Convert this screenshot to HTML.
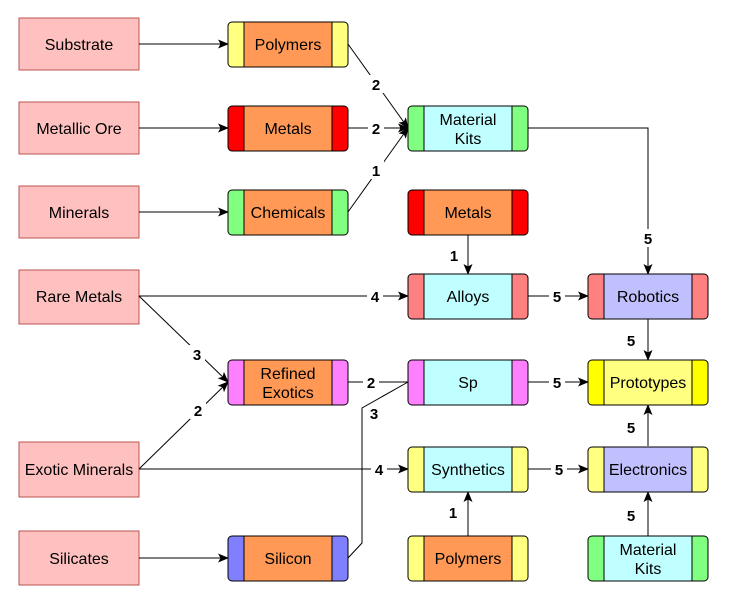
<!DOCTYPE html>
<html><head><meta charset="utf-8"><style>
html,body{margin:0;padding:0;background:#fff}
svg{display:block}
text{font-family:"Liberation Sans",sans-serif;font-size:16px;fill:#000}
.l{font-weight:bold;font-size:15px}
</style></head><body>
<svg width="742" height="607" viewBox="0 0 742 607" xmlns="http://www.w3.org/2000/svg">
<defs><marker id="a" markerWidth="11" markerHeight="9" refX="10" refY="4.5" orient="auto" markerUnits="userSpaceOnUse"><path d="M0,0 L11,4.5 L0,9 L2.5,4.5 z" fill="#000"/></marker></defs>
<g fill="#ffc0c0" stroke="#b85450">
<rect x="19" y="18" width="120" height="52"/>
<rect x="19" y="102" width="120" height="52"/>
<rect x="19" y="186" width="120" height="52"/>
<rect x="19" y="270" width="120" height="54"/>
<rect x="19" y="442" width="120" height="55"/>
<rect x="19" y="531" width="120" height="54"/>
</g>
<g text-anchor="middle">
<text x="79" y="50">Substrate</text>
<text x="79" y="134">Metallic Ore</text>
<text x="79" y="218">Minerals</text>
<text x="79" y="302">Rare Metals</text>
<text x="79" y="475">Exotic Minerals</text>
<text x="79" y="564">Silicates</text>
</g>
<g stroke="#000" stroke-width="1" fill="none">
<path d="M139,44H228" marker-end="url(#a)"/>
<path d="M139,128H228" marker-end="url(#a)"/>
<path d="M139,212H228" marker-end="url(#a)"/>
<path d="M139,558H228" marker-end="url(#a)"/>
<path d="M348,44L408,128" marker-end="url(#a)"/>
<path d="M348,128H408" marker-end="url(#a)"/>
<path d="M348,212L408,128" marker-end="url(#a)"/>
<path d="M528,128H648V274" marker-end="url(#a)"/>
<path d="M468,235V274" marker-end="url(#a)"/>
<path d="M139,296H408" marker-end="url(#a)"/>
<path d="M528,296H588" marker-end="url(#a)"/>
<path d="M648,319V360" marker-end="url(#a)"/>
<path d="M139,296L228,382" marker-end="url(#a)"/>
<path d="M139,469L228,382" marker-end="url(#a)"/>
<path d="M139,469H408" marker-end="url(#a)"/>
<path d="M348,382H408"/>
<path d="M348,558L362,543V408L408,382"/>
<path d="M528,382H588" marker-end="url(#a)"/>
<path d="M528,469H588" marker-end="url(#a)"/>
<path d="M648,446V405" marker-end="url(#a)"/>
<path d="M468,536V492" marker-end="url(#a)"/>
<path d="M648,536V492" marker-end="url(#a)"/>
</g>
<g text-anchor="middle" class="l">
<rect x="368" y="75" width="16" height="18" fill="#fff"/><text class="l" x="376" y="90">2</text>
<rect x="368" y="119" width="16" height="18" fill="#fff"/><text class="l" x="376" y="134">2</text>
<rect x="368" y="161" width="16" height="18" fill="#fff"/><text class="l" x="376" y="176">1</text>
<rect x="640" y="229" width="16" height="18" fill="#fff"/><text class="l" x="648" y="244">5</text>
<rect x="446" y="246" width="16" height="18" fill="#fff"/><text class="l" x="454" y="261">1</text>
<rect x="367" y="287" width="16" height="18" fill="#fff"/><text class="l" x="375" y="302">4</text>
<rect x="549" y="287" width="16" height="18" fill="#fff"/><text class="l" x="557" y="302">5</text>
<rect x="623" y="331" width="16" height="18" fill="#fff"/><text class="l" x="631" y="346">5</text>
<rect x="189" y="345" width="16" height="18" fill="#fff"/><text class="l" x="197" y="360">3</text>
<rect x="190" y="401" width="16" height="18" fill="#fff"/><text class="l" x="198" y="416">2</text>
<rect x="363" y="373" width="16" height="18" fill="#fff"/><text class="l" x="371" y="388">2</text>
<text class="l" x="374" y="419">3</text>
<rect x="549" y="373" width="16" height="18" fill="#fff"/><text class="l" x="557" y="388">5</text>
<rect x="371" y="460" width="16" height="18" fill="#fff"/><text class="l" x="379" y="475">4</text>
<rect x="551" y="460" width="16" height="18" fill="#fff"/><text class="l" x="559" y="475">5</text>
<rect x="623" y="418" width="16" height="18" fill="#fff"/><text class="l" x="631" y="433">5</text>
<rect x="445" y="503" width="16" height="18" fill="#fff"/><text class="l" x="453" y="518">1</text>
<rect x="623" y="506" width="16" height="18" fill="#fff"/><text class="l" x="631" y="521">5</text>
</g>
<g stroke="#000" stroke-width="1">
<rect x="228" y="22" width="120" height="45" rx="4" fill="#ffff80"/><rect x="244" y="22" width="88" height="45" fill="#ff9955"/>
<rect x="228" y="106" width="120" height="45" rx="4" fill="#ff0000"/><rect x="244" y="106" width="88" height="45" fill="#ff9955"/>
<rect x="228" y="190" width="120" height="45" rx="4" fill="#80ff80"/><rect x="244" y="190" width="88" height="45" fill="#ff9955"/>
<rect x="228" y="360" width="120" height="45" rx="4" fill="#ff80ff"/><rect x="244" y="360" width="88" height="45" fill="#ff9955"/>
<rect x="228" y="536" width="120" height="45" rx="4" fill="#8080ff"/><rect x="244" y="536" width="88" height="45" fill="#ff9955"/>
<rect x="408" y="106" width="120" height="45" rx="4" fill="#80ff80"/><rect x="424" y="106" width="88" height="45" fill="#c0ffff"/>
<rect x="408" y="190" width="120" height="45" rx="4" fill="#ff0000"/><rect x="424" y="190" width="88" height="45" fill="#ff9955"/>
<rect x="408" y="274" width="120" height="45" rx="4" fill="#ff8080"/><rect x="424" y="274" width="88" height="45" fill="#c0ffff"/>
<rect x="408" y="360" width="120" height="45" rx="4" fill="#ff80ff"/><rect x="424" y="360" width="88" height="45" fill="#c0ffff"/>
<rect x="408" y="447" width="120" height="45" rx="4" fill="#ffff80"/><rect x="424" y="447" width="88" height="45" fill="#c0ffff"/>
<rect x="408" y="536" width="120" height="45" rx="4" fill="#ffff80"/><rect x="424" y="536" width="88" height="45" fill="#ff9955"/>
<rect x="588" y="274" width="120" height="45" rx="4" fill="#ff8080"/><rect x="604" y="274" width="88" height="45" fill="#c0c0ff"/>
<rect x="588" y="360" width="120" height="45" rx="4" fill="#ffff00"/><rect x="604" y="360" width="88" height="45" fill="#ffff80"/>
<rect x="588" y="447" width="120" height="45" rx="4" fill="#ffff80"/><rect x="604" y="447" width="88" height="45" fill="#c0c0ff"/>
<rect x="588" y="536" width="120" height="45" rx="4" fill="#80ff80"/><rect x="604" y="536" width="88" height="45" fill="#c0ffff"/>
</g>
<g text-anchor="middle">
<text x="288" y="50">Polymers</text>
<text x="288" y="134">Metals</text>
<text x="288" y="218">Chemicals</text>
<text x="288" y="379">Refined</text><text x="288" y="398">Exotics</text>
<text x="288" y="564">Silicon</text>
<text x="468" y="125">Material</text><text x="468" y="144">Kits</text>
<text x="468" y="218">Metals</text>
<text x="468" y="302">Alloys</text>
<text x="468" y="388">Sp</text>
<text x="468" y="475">Synthetics</text>
<text x="468" y="564">Polymers</text>
<text x="648" y="302">Robotics</text>
<text x="648" y="388">Prototypes</text>
<text x="648" y="475">Electronics</text>
<text x="648" y="555">Material</text><text x="648" y="574">Kits</text>
</g>
</svg>
</body></html>
